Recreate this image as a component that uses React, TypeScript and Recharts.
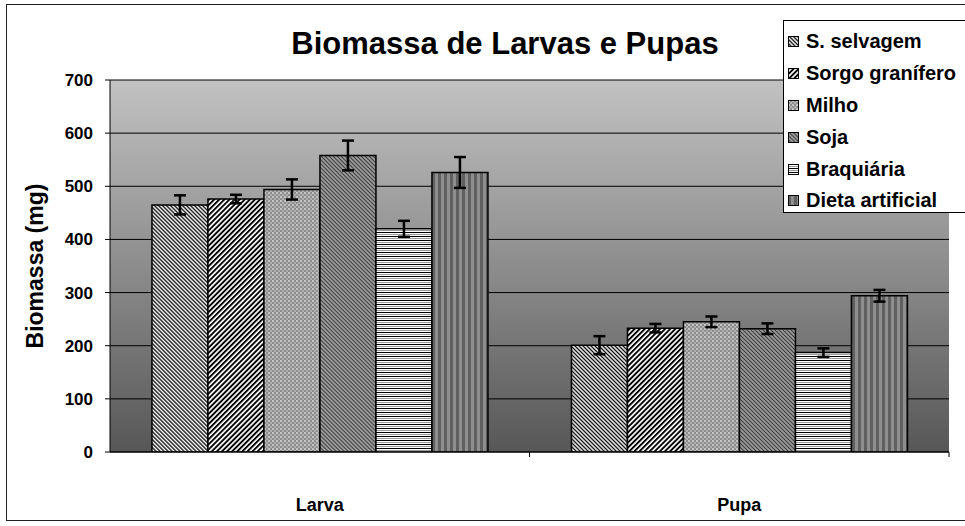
import React from "react";
import { BarChart, Bar, XAxis, YAxis, CartesianGrid, ErrorBar } from "recharts";

const stages = ["Larva", "Pupa"];
const seriesNames = ["S. selvagem", "Sorgo granífero", "Milho", "Soja", "Braquiária", "Dieta artificial"];
const larvaMeans = [465, 476, 494, 558, 420, 526];
const larvaErrors = [18, 8, 19, 28, 15, 29];
const pupaMeans = [201, 233, 245, 232, 187, 294];
const pupaErrors = [17, 8, 10, 10, 8, 11];
const yTicks = [0, 100, 200, 300, 400, 500, 600, 700];

const patternIds = ["patSel", "patSorgo", "patMilho", "patSoja", "patBraq", "patDieta"];

const means = [larvaMeans, pupaMeans];
const errors = [larvaErrors, pupaErrors];

// one row per stage, s0..s5 = means, e0..e5 = std errors
const data = stages.map((stage, i) => {
  const row: Record<string, string | number> = { stage };
  seriesNames.forEach((_, j) => {
    row["s" + j] = means[i][j];
    row["e" + j] = errors[i][j];
  });
  return row;
});

const FONT = "'Liberation Sans', Arial, sans-serif";

const Patterns = () => (
  <svg width={0} height={0} style={{ position: "absolute" }}>
    <defs>
      <linearGradient id="plotBg" x1="0" y1="0" x2="0" y2="1">
        <stop offset="0%" stopColor="#c2c2c2" />
        <stop offset="100%" stopColor="#575757" />
      </linearGradient>
      <pattern id="patSel" width="2.83" height="2.83" patternUnits="userSpaceOnUse" patternTransform="rotate(-45)">
        <rect width="2.83" height="2.83" fill="#fff" />
        <rect width="1.3" height="2.83" fill="#000" />
      </pattern>
      <pattern id="patSorgo" width="3.6" height="3.6" patternUnits="userSpaceOnUse" patternTransform="rotate(45)">
        <rect width="3.6" height="3.6" fill="#fff" />
        <rect width="1.9" height="3.6" fill="#000" />
      </pattern>
      <pattern id="patMilho" width="4" height="4" patternUnits="userSpaceOnUse">
        <rect width="4" height="4" fill="#8c8c8c" />
        <rect x="0" y="0" width="2" height="2" fill="#c4c4c4" />
        <rect x="2" y="2" width="2" height="2" fill="#b0b0b0" />
      </pattern>
      <pattern id="patSoja" width="2.83" height="2.83" patternUnits="userSpaceOnUse" patternTransform="rotate(-45)">
        <rect width="2.83" height="2.83" fill="#a8a8a8" />
        <rect width="1.2" height="2.83" fill="#3a3a3a" />
      </pattern>
      <pattern id="patBraq" width="4" height="4" patternUnits="userSpaceOnUse">
        <rect width="4" height="4" fill="#fff" />
        <rect y="0" width="4" height="1" fill="#000" />
        <rect y="2" width="4" height="1" fill="#9a9a9a" />
      </pattern>
      <pattern id="patDieta" width="6" height="6" patternUnits="userSpaceOnUse">
        <rect width="6" height="6" fill="#8e8e8e" />
        <rect x="0" width="3" height="6" fill="#606060" />
      </pattern>
    </defs>
  </svg>
);

const CategoryTick = (props: any) => {
  const { x, y, payload, width, visibleTicksCount } = props;
  const half = width && visibleTicksCount ? width / visibleTicksCount / 2 : 0;
  return (
    <g>
      {half > 0 && <line x1={x + half} x2={x + half} y1={y} y2={y + 5} stroke="#000" strokeWidth={1} />}
      <text x={x} y={y + 59} textAnchor="middle" fontFamily={FONT} fontWeight="bold" fontSize={18} fill="#000">
        {payload.value}
      </text>
    </g>
  );
};

const ValueTick = (props: any) => {
  const { x, y, payload } = props;
  const label = String(payload.value);
  return (
    <text x={x} y={y + 6} textAnchor="end" fontFamily={FONT} fontWeight="bold" fontSize={17} fill="#000">
      {label}
    </text>
  );
};

export default function App() {
  return (
    <div style={{ position: "absolute", left: 0, top: 0, width: 965, height: 526, background: "#fff" }}>
      <Patterns />
      <div
        style={{
          position: "absolute",
          left: 6,
          top: 4,
          width: 980,
          height: 517,
          border: "1.5px solid #222",
          boxSizing: "border-box",
        }}
      />
      <BarChart
        width={965}
        height={526}
        data={data}
        margin={{ top: 80, right: 16, left: 40, bottom: 14 }}
        barCategoryGap="10%"
        barGap={0}
        style={{ position: "absolute", left: 0, top: 0 }}
      >
        <CartesianGrid vertical={false} stroke="#000" strokeWidth={1} fill="url(#plotBg)" fillOpacity={1} />
        <XAxis
          dataKey="stage"
          height={60}
          axisLine={{ stroke: "#000", strokeWidth: 1 }}
          tickLine={false}
          tickSize={0}
          tickMargin={0}
          tick={<CategoryTick />}
          interval={0}
        />
        <YAxis
          width={70}
          domain={[0, 700]}
          ticks={yTicks}
          allowDataOverflow
          axisLine={{ stroke: "#000", strokeWidth: 1 }}
          tickLine={{ stroke: "#000", strokeWidth: 1 }}
          tickSize={5}
          tickMargin={12}
          tick={<ValueTick />}
        />
        {seriesNames.map((name, j) => (
          <Bar
            key={name}
            name={name}
            dataKey={"s" + j}
            fill={`url(#${patternIds[j]})`}
            stroke="#000"
            strokeWidth={1.5}
            isAnimationActive={false}
          >
            <ErrorBar dataKey={"e" + j} width={6} stroke="#000" strokeWidth={2.5} direction="y" />
          </Bar>
        ))}
      </BarChart>
      <svg width={965} height={526} style={{ position: "absolute", left: 0, top: 0, pointerEvents: "none" }}>
        <text x={505} y={54} textAnchor="middle" fontFamily={FONT} fontWeight="bold" fontSize={31} fill="#000">
          Biomassa de Larvas e Pupas
        </text>
        <text
          x={43}
          y={266}
          textAnchor="middle"
          fontFamily={FONT}
          fontWeight="bold"
          fontSize={23}
          fill="#000"
          transform="rotate(-90, 43, 266)"
        >
          Biomassa (mg)
        </text>
      </svg>
      <div
        style={{
          position: "absolute",
          left: 783,
          top: 20,
          width: 200,
          height: 193,
          background: "#fff",
          border: "1px solid #000",
          boxSizing: "border-box",
          paddingTop: 5,
        }}
      >
        {seriesNames.map((name, j) => (
          <div key={name} style={{ display: "flex", alignItems: "center", height: 31.8, paddingLeft: 4 }}>
            <svg width={11} height={11} style={{ marginRight: 7 }}>
              <rect x={0.5} y={0.5} width={10} height={10} fill={`url(#${patternIds[j]})`} stroke="#000" strokeWidth={1} />
            </svg>
            <span style={{ fontFamily: FONT, fontWeight: "bold", fontSize: 20, color: "#000", whiteSpace: "nowrap" }}>
              {name}
            </span>
          </div>
        ))}
      </div>
    </div>
  );
}
